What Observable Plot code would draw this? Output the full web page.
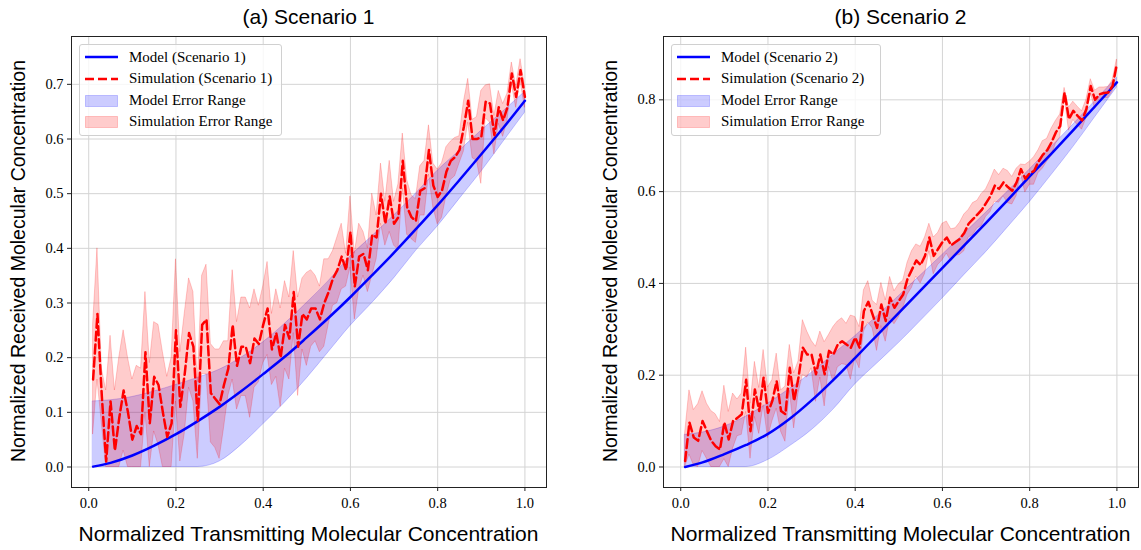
<!DOCTYPE html>
<html>
<head>
<meta charset="utf-8">
<script src="https://cdn.jsdelivr.net/npm/d3@7"></script>
<script src="https://cdn.jsdelivr.net/npm/@observablehq/plot@0.6"></script>
<style>
  html, body { margin: 0; padding: 0; background: #fff; }
  #root { position: relative; width: 1141px; height: 550px; overflow: hidden; font-family: "Liberation Sans", Arial, sans-serif; }
  .pnl { position: absolute; top: 0; }
  .title { position: absolute; font-size: 21px; color: #000; transform: translate(-50%, -50%); white-space: nowrap; }
  .xlab { position: absolute; font-size: 21px; color: #000; transform: translate(-50%, -50%); white-space: nowrap; }
  .ylab { position: absolute; font-size: 19.5px; color: #000; transform: translate(-50%, -50%) rotate(-90deg); white-space: nowrap; }
  .legend { position: absolute; background: rgba(255,255,255,0.8); border: 1px solid #d0d0d0; border-radius: 3px; font-family: "Liberation Serif", "Times New Roman", serif; font-size: 15px; color: #000; }
  .legend .row { position: absolute; left: 0; height: 20px; display: flex; align-items: center; white-space: nowrap; }
  .legend svg { margin-left: 5px; margin-right: 11px; }
</style>
</head>
<body>
<div id="root"></div>
<script>
// ---------- data ----------
const xTicks = [0, 0.2, 0.4, 0.6, 0.8, 1.0];
const yTicks1 = [0, 0.1, 0.2, 0.3, 0.4, 0.5, 0.6, 0.7];
const yTicks2 = [0, 0.2, 0.4, 0.6, 0.8];

const titles = ["(a) Scenario 1", "(b) Scenario 2"];
const xLabel = "Normalized Transmitting Molecular Concentration";
const yLabel = "Normalized Received Molecular Concentration";
const legendLabels1 = ["Model (Scenario 1)", "Simulation (Scenario 1)", "Model Error Range", "Simulation Error Range"];
const legendLabels2 = ["Model (Scenario 2)", "Simulation (Scenario 2)", "Model Error Range", "Simulation Error Range"];

// smooth model curves, read at these x positions
const modelX = [0.01, 0.05, 0.10, 0.15, 0.20, 0.25, 0.30, 0.35, 0.40, 0.45, 0.50, 0.55, 0.60, 0.65, 0.70, 0.75, 0.80, 0.85, 0.90, 0.95, 1.00];
const model1   = [0.0007, 0.0075, 0.021, 0.039, 0.060, 0.084, 0.110, 0.139, 0.170, 0.202, 0.237, 0.273, 0.311, 0.351, 0.392, 0.435, 0.479, 0.525, 0.572, 0.620, 0.670];
const model1Hi = [0.120, 0.122, 0.128, 0.138, 0.150, 0.163, 0.178, 0.200, 0.228, 0.262, 0.300, 0.340, 0.385, 0.422, 0.460, 0.500, 0.542, 0.578, 0.615, 0.650, 0.686];
const model1Lo = [0, 0, 0, 0, 0, 0, 0.010, 0.040, 0.078, 0.118, 0.162, 0.210, 0.258, 0.300, 0.345, 0.395, 0.440, 0.490, 0.540, 0.594, 0.648];

const model2   = [0.000, 0.010, 0.028, 0.048, 0.072, 0.105, 0.145, 0.190, 0.238, 0.287, 0.336, 0.385, 0.434, 0.483, 0.532, 0.582, 0.633, 0.683, 0.734, 0.786, 0.838];
const model2Hi = [0.070, 0.075, 0.088, 0.110, 0.138, 0.170, 0.205, 0.245, 0.285, 0.328, 0.372, 0.417, 0.462, 0.508, 0.554, 0.600, 0.648, 0.697, 0.746, 0.797, 0.848];
const model2Lo = [0, 0, 0, 0, 0.015, 0.045, 0.080, 0.125, 0.180, 0.225, 0.270, 0.318, 0.367, 0.418, 0.468, 0.522, 0.577, 0.636, 0.697, 0.762, 0.827];

// simulation samples at x = 0.01 ... 1.00
const simX = d3.range(1, 101).map(i => i / 100);
const sim1 = [
  0.16, 0.28, 0.13, 0.01, 0.12, 0.03, 0.09, 0.14, 0.10, 0.05,
  0.075, 0.06, 0.21, 0.08, 0.165, 0.15, 0.10, 0.055, 0.08, 0.25,
  0.11, 0.17, 0.245, 0.22, 0.085, 0.26, 0.27, 0.135, 0.125, 0.115,
  0.15, 0.18, 0.26, 0.185, 0.22, 0.22, 0.19, 0.235, 0.225, 0.26,
  0.29, 0.215, 0.245, 0.20, 0.26, 0.235, 0.32, 0.22, 0.28, 0.27,
  0.29, 0.29, 0.27, 0.30, 0.32, 0.345, 0.36, 0.385, 0.36, 0.43,
  0.33, 0.385, 0.39, 0.36, 0.425, 0.42, 0.50, 0.445, 0.495, 0.445,
  0.457, 0.56, 0.475, 0.457, 0.45, 0.505, 0.51, 0.58, 0.515, 0.494,
  0.506, 0.54, 0.56, 0.567, 0.58, 0.622, 0.67, 0.60, 0.60, 0.603,
  0.668, 0.665, 0.607, 0.658, 0.634, 0.658, 0.72, 0.677, 0.726, 0.677
];
const err1 = [
  0.10, 0.12, 0.05, 0.13, 0.12, 0.11, 0.11, 0.11, 0.10, 0.11,
  0.11, 0.12, 0.11, 0.11, 0.10, 0.11, 0.11, 0.11, 0.12, 0.13,
  0.10, 0.11, 0.10, 0.10, 0.07, 0.09, 0.10, 0.09, 0.09, 0.10,
  0.08, 0.05, 0.10, 0.08, 0.09, 0.09, 0.10, 0.09, 0.07, 0.07,
  0.085, 0.065, 0.08, 0.09, 0.08, 0.075, 0.075, 0.09, 0.065, 0.085,
  0.07, 0.06, 0.06, 0.08, 0.06, 0.05, 0.06, 0.06, 0.03, 0.065,
  0.06, 0.06, 0.04, 0.04, 0.075, 0.04, 0.055, 0.04, 0.065, 0.04,
  0.06, 0.05, 0.05, 0.04, 0.04, 0.045, 0.05, 0.045, 0.04, 0.05,
  0.05, 0.045, 0.035, 0.035, 0.025, 0.045, 0.04, 0.035, 0.04, 0.085,
  0.03, 0.035, 0.035, 0.03, 0.03, 0.025, 0.02, 0.02, 0.02, 0.02
];
const sim2 = [
  0.013, 0.097, 0.064, 0.057, 0.10, 0.078, 0.057, 0.045, 0.038, 0.097,
  0.06, 0.10, 0.107, 0.115, 0.19, 0.078, 0.169, 0.122, 0.195, 0.118,
  0.144, 0.187, 0.122, 0.115, 0.216, 0.144, 0.195, 0.26, 0.245, 0.245,
  0.202, 0.245, 0.202, 0.253, 0.245, 0.267, 0.274, 0.267, 0.26, 0.282,
  0.26, 0.34, 0.36, 0.332, 0.303, 0.354, 0.318, 0.369, 0.347, 0.362,
  0.376, 0.41, 0.43, 0.45, 0.44, 0.46, 0.50, 0.46, 0.475, 0.49,
  0.50, 0.483, 0.49, 0.497, 0.51, 0.53, 0.54, 0.55, 0.56, 0.575,
  0.59, 0.613, 0.606, 0.62, 0.61, 0.602, 0.62, 0.649, 0.628, 0.64,
  0.645, 0.665, 0.68, 0.69, 0.707, 0.729, 0.743, 0.816, 0.758, 0.776,
  0.765, 0.755, 0.78, 0.83, 0.80, 0.812, 0.815, 0.816, 0.83, 0.878
];
const err2 = [
  0.06, 0.07, 0.06, 0.08, 0.065, 0.06, 0.065, 0.07, 0.06, 0.08,
  0.06, 0.06, 0.04, 0.045, 0.07, 0.06, 0.06, 0.05, 0.06, 0.055,
  0.045, 0.06, 0.045, 0.06, 0.05, 0.06, 0.035, 0.06, 0.05, 0.03,
  0.06, 0.05, 0.07, 0.035, 0.06, 0.05, 0.05, 0.045, 0.07, 0.045,
  0.045, 0.045, 0.045, 0.03, 0.05, 0.047, 0.045, 0.045, 0.036, 0.036,
  0.03, 0.035, 0.04, 0.035, 0.04, 0.04, 0.03, 0.04, 0.035, 0.04,
  0.035, 0.035, 0.03, 0.035, 0.04, 0.03, 0.035, 0.03, 0.035, 0.03,
  0.035, 0.035, 0.03, 0.03, 0.035, 0.03, 0.03, 0.01, 0.03, 0.025,
  0.03, 0.025, 0.03, 0.025, 0.03, 0.025, 0.025, 0.01, 0.025, 0.02,
  0.02, 0.02, 0.02, 0.015, 0.02, 0.015, 0.012, 0.012, 0.012, 0.01
];

// ---------- drawing ----------
const BLUE = "#0000ff", RED = "#ff0000";
const LW = 2.5, DASH = "9,4";
const root = document.getElementById("root");

function panel(cfg) {
  const modelRows = modelX.map((x, i) => ({x, y: cfg.model[i], lo: cfg.lo[i], hi: cfg.hi[i]}));
  const simRows = simX.map((x, i) => ({x, y: cfg.sim[i], lo: Math.max(0, cfg.sim[i] - cfg.err[i]), hi: cfg.sim[i] + cfg.err[i]}));
  const fmt = d => d.toFixed(1);
  const chart = Plot.plot({
    width: cfg.width,
    height: 550,
    marginLeft: 71,
    marginRight: cfg.width - 71 - 475,
    marginTop: 36,
    marginBottom: 63,
    x: {domain: [-0.0395, 1.0495]},
    y: {domain: cfg.yDomain},
    style: {fontFamily: "'Liberation Serif', 'Times New Roman', serif", fontSize: "14.5px", color: "#000", background: "transparent", overflow: "visible"},
    marks: [
      Plot.gridX(xTicks, {stroke: "#d4d4d4", strokeOpacity: 1, strokeWidth: 1}),
      Plot.gridY(cfg.yTicks, {stroke: "#d4d4d4", strokeOpacity: 1, strokeWidth: 1}),
      Plot.areaY(modelRows, {x: "x", y1: "lo", y2: "hi", fill: BLUE, fillOpacity: 0.2, stroke: BLUE, strokeOpacity: 0.2, curve: "monotone-x"}),
      Plot.areaY(simRows, {x: "x", y1: "lo", y2: "hi", fill: RED, fillOpacity: 0.2, stroke: RED, strokeOpacity: 0.2}),
      Plot.line(modelRows, {x: "x", y: "y", stroke: BLUE, strokeWidth: LW, curve: "monotone-x"}),
      Plot.line(simRows, {x: "x", y: "y", stroke: RED, strokeWidth: LW, strokeDasharray: DASH, strokeLinejoin: "round"}),
      Plot.frame({stroke: "#222", strokeWidth: 1}),
      Plot.axisX({ticks: xTicks, tickFormat: fmt, tickSize: 4, tickPadding: 6, label: null, stroke: "#222"}),
      Plot.axisY({ticks: cfg.yTicks, tickFormat: fmt, tickSize: 4, tickPadding: 4, label: null, stroke: "#222"})
    ]
  });
  chart.classList.add("pnl");
  chart.style.left = cfg.left + "px";
  root.appendChild(chart);

  const cx = cfg.left + 71 + 475 / 2;
  const t = document.createElement("div");
  t.className = "title"; t.textContent = cfg.title;
  t.style.left = cx + "px"; t.style.top = "17px";
  root.appendChild(t);

  const xl = document.createElement("div");
  xl.className = "xlab"; xl.textContent = xLabel;
  xl.style.left = cx + "px"; xl.style.top = "534px";
  root.appendChild(xl);

  const yl = document.createElement("div");
  yl.className = "ylab"; yl.textContent = yLabel;
  yl.style.left = (cfg.left + 18) + "px"; yl.style.top = "261px";
  root.appendChild(yl);

  // legend
  const lg = document.createElement("div");
  lg.className = "legend";
  lg.style.left = (cfg.left + 79) + "px";
  lg.style.top = "44px";
  lg.style.width = cfg.legendWidth + "px";
  lg.style.height = "90px";
  const swatches = [
    `<svg width="33" height="12"><line x1="0" y1="6" x2="33" y2="6" stroke="${BLUE}" stroke-width="${LW}"/></svg>`,
    `<svg width="33" height="12"><line x1="0" y1="6" x2="33" y2="6" stroke="${RED}" stroke-width="${LW}" stroke-dasharray="${DASH}"/></svg>`,
    `<svg width="33" height="12"><rect x="0.5" y="0.5" width="32" height="11" fill="${BLUE}" fill-opacity="0.2" stroke="${BLUE}" stroke-opacity="0.2"/></svg>`,
    `<svg width="33" height="12"><rect x="0.5" y="0.5" width="32" height="11" fill="${RED}" fill-opacity="0.2" stroke="${RED}" stroke-opacity="0.2"/></svg>`
  ];
  const rowTops = [2, 23.5, 45.5, 66.5];
  cfg.legend.forEach((lab, i) => {
    const r = document.createElement("div");
    r.className = "row";
    r.style.top = rowTops[i] + "px";
    r.innerHTML = swatches[i] + `<span>${lab}</span>`;
    lg.appendChild(r);
  });
  root.appendChild(lg);
}

panel({left: 0, width: 570, title: titles[0], yDomain: [-0.0375, 0.7875], yTicks: yTicks1,
       model: model1, lo: model1Lo, hi: model1Hi, sim: sim1, err: err1, legend: legendLabels1, legendWidth: 201});
panel({left: 592, width: 549, title: titles[1], yDomain: [-0.0447, 0.938], yTicks: yTicks2,
       model: model2, lo: model2Lo, hi: model2Hi, sim: sim2, err: err2, legend: legendLabels2, legendWidth: 208});
</script>
</body>
</html>
